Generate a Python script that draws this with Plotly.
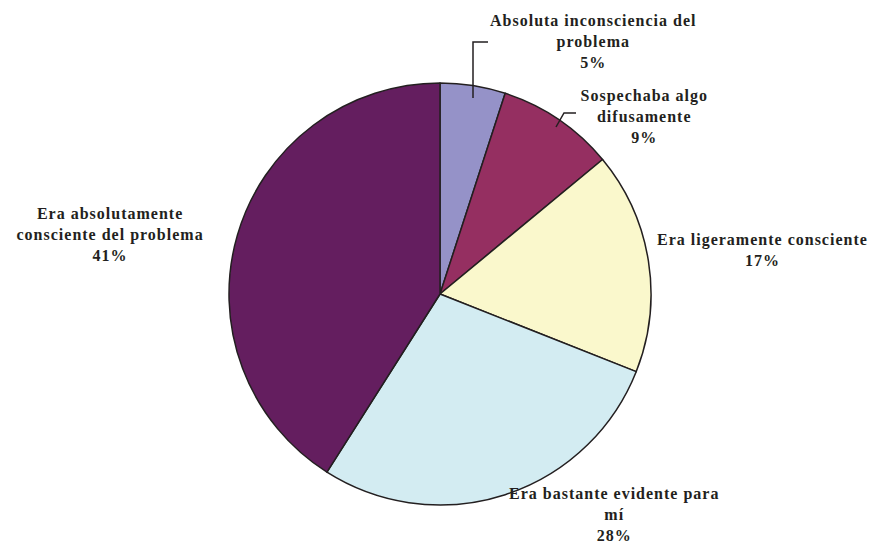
import plotly.graph_objects as go

W, H = 871, 544

labels = [
    "Absoluta inconsciencia del<br>problema",
    "Sospechaba algo<br>difusamente",
    "Era ligeramente consciente",
    "Era bastante evidente para<br>mí",
    "Era absolutamente<br>consciente del problema",
]
values = [5, 9, 17, 28, 41]
colors = ["#9592C8", "#952F61", "#FAF8CC", "#D3ECF2", "#641E5F"]

# label centre positions in pixels (x, y of the middle of the block)
label_pos = [(593, 42), (644, 116), (762, 250), (614, 514), (110, 234)]

def px(x):
    return x / W

def py(y):
    return 1 - y / H

fig = go.Figure(go.Pie(
    labels=labels,
    values=values,
    sort=False,
    direction="clockwise",
    rotation=0,
    marker=dict(colors=colors, line=dict(color="#231F20", width=1.5)),
    textinfo="none",
    hoverinfo="label+percent",
    showlegend=False,
    domain=dict(x=[px(229), px(651)], y=[py(505), py(83)]),
))

total = sum(values)
for lab, val, (x, y) in zip(labels, values, label_pos):
    fig.add_annotation(
        x=px(x), y=py(y), xref="paper", yref="paper",
        text=f"<b>{lab}<br>{round(val / total * 100)}%</b>",
        showarrow=False, align="center",
        xanchor="center", yanchor="middle",
        font=dict(family="Liberation Serif", size=16, color="#231F20"),
    )

# leader lines
def path(points):
    return "M " + " L ".join(f"{px(a)},{py(b)}" for a, b in points)

for pts in [[(473, 98), (473, 42), (488, 42)],
            [(556, 127), (564, 113), (576, 113)]]:
    fig.add_shape(type="path", xref="paper", yref="paper",
                  path=path(pts), line=dict(color="#231F20", width=1.5))

fig.update_layout(
    width=W, height=H,
    margin=dict(l=0, r=0, t=0, b=0),
    paper_bgcolor="white",
    plot_bgcolor="white",
)

# page margin off, and the slightly spaced-out lettering of the original
js = ("document.body.style.margin='0';"
      "document.querySelectorAll('.annotation-text').forEach(function(e){"
      "e.style.letterSpacing='1px';});")
fig.write_html("out.html", config={"displayModeBar": False}, post_script=js)
